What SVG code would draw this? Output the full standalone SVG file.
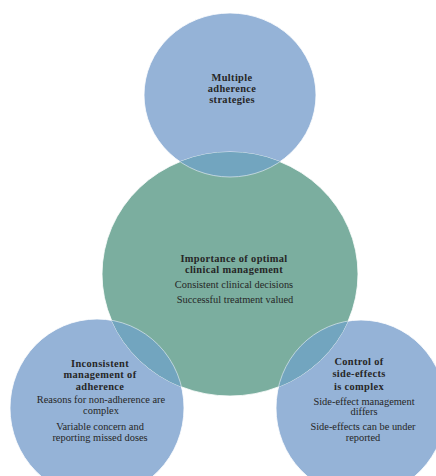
<svg xmlns="http://www.w3.org/2000/svg" width="436" height="476" viewBox="0 0 436 476">
<style>
.blue{fill:#95B3D7;stroke:#ffffff;stroke-width:0.8}
.green{fill:#7BAE9F;stroke:#ffffff;stroke-width:0.8}
.ov{fill:#72A5BF}
.edge{fill:none;stroke:#e8eef5;stroke-width:0.8;opacity:0.8}
text{font-family:"Liberation Serif","Times New Roman",serif;font-size:10.4px;fill:#262626;text-anchor:middle}
.h{font-weight:bold;font-size:10.4px;letter-spacing:0.35px}
</style>
<defs>
<clipPath id="cg"><ellipse cx="230" cy="274" rx="128" ry="122"/></clipPath>
</defs>
<rect width="436" height="476" fill="#ffffff"/>
<g id="top-node">
<ellipse class="blue" cx="230" cy="95" rx="86" ry="82"/>
</g>
<g id="left-node">
<ellipse class="blue" cx="97" cy="408" rx="87" ry="89"/>
</g>
<g id="right-node">
<ellipse class="blue" cx="361" cy="408" rx="85" ry="88"/>
</g>
<g id="center-node">
<ellipse class="green" cx="230" cy="274" rx="128" ry="122"/>
<g clip-path="url(#cg)">
<ellipse class="ov" cx="230" cy="95" rx="86" ry="82"/>
<ellipse class="ov" cx="97" cy="408" rx="87" ry="89"/>
<ellipse class="ov" cx="361" cy="408" rx="85" ry="88"/>
<ellipse class="edge" cx="230" cy="95" rx="86" ry="82"/>
<ellipse class="edge" cx="97" cy="408" rx="87" ry="89"/>
<ellipse class="edge" cx="361" cy="408" rx="85" ry="88"/>
</g>
</g>
<g id="connectors"></g>
<g id="labels">
<text class="h" x="232" y="81">Multiple</text>
<text class="h" x="232" y="92">adherence</text>
<text class="h" x="232" y="103">strategies</text>
<text class="h" x="234" y="262">Importance of optimal</text>
<text class="h" x="234" y="273">clinical management</text>
<text x="234" y="288">Consistent clinical decisions</text>
<text x="235" y="303">Successful treatment valued</text>
<text class="h" x="100" y="367">Inconsistent</text>
<text class="h" x="100" y="378">management of</text>
<text class="h" x="100" y="390">adherence</text>
<text x="101" y="403">Reasons for non-adherence are</text>
<text x="101" y="414">complex</text>
<text x="100" y="430">Variable concern and</text>
<text x="100" y="441">reporting missed doses</text>
<text class="h" x="359" y="365">Control of</text>
<text class="h" x="359" y="377">side-effects</text>
<text class="h" x="359" y="390">is complex</text>
<text x="364" y="405">Side-effect management</text>
<text x="364" y="415">differs</text>
<text x="363" y="430">Side-effects can be under</text>
<text x="363" y="441">reported</text>
</g>
</svg>
